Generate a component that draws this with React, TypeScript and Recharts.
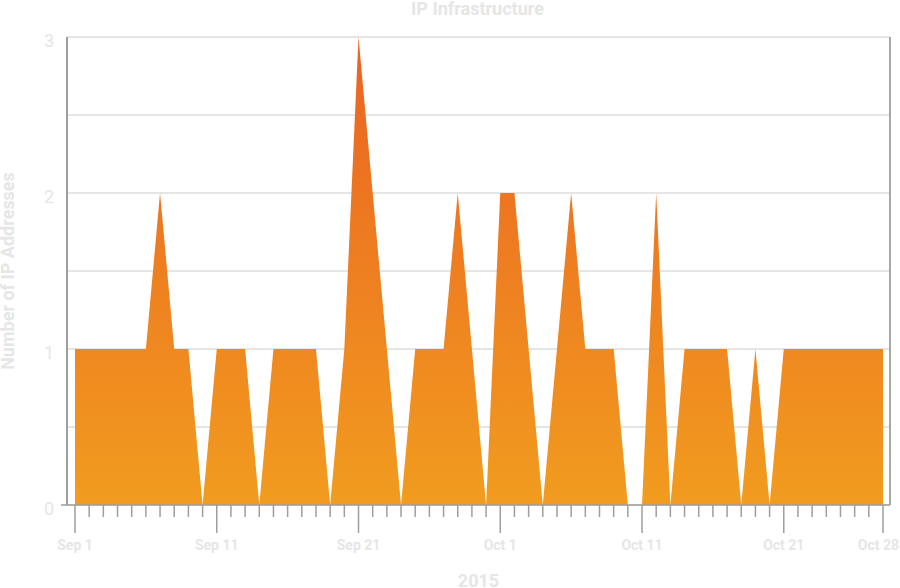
import React from 'react';
import { AreaChart, Area, XAxis, YAxis, CartesianGrid, Label } from 'recharts';

// daily counts
const SEP_COUNTS = [1, 1, 1, 1, 1, 1, 2, 1, 1, 0, 1, 1, 1, 0, 1, 1, 1, 1, 0, 1, 3, 2, 1, 0, 1, 1, 1, 2, 1, 0];
const OCT_COUNTS = [2, 2, 1, 0, 1, 2, 1, 1, 1, 0, 0, 2, 0, 1, 1, 1, 1, 0, 1, 0, 1, 1, 1, 1, 1, 1, 1, 1];
const MAJOR_TICKS = ['Sep 1', 'Sep 11', 'Sep 21', 'Oct 1', 'Oct 11', 'Oct 21', 'Oct 28'];
const Y_TICKS = [0, 0.5, 1, 1.5, 2, 2.5, 3];

const data = [
  ...SEP_COUNTS.map((v, i) => ({ day: `Sep ${i + 1}`, count: v })),
  ...OCT_COUNTS.map((v, i) => ({ day: `Oct ${i + 1}`, count: v })),
];

const TEXT = '#e6e6e6';
const AXIS = '#9e9e9e';
const GRID = '#cccccc';
const FONT = 'Roboto, sans-serif';

const DayTick = (props: any) => {
  const { x, y, payload } = props;
  const major = MAJOR_TICKS.includes(payload.value);
  // last label is pulled in so it stays on the page
  const last = payload.value === MAJOR_TICKS[MAJOR_TICKS.length - 1];
  return (
    <g>
      <line x1={x} x2={x} y1={y} y2={y + (major ? 28 : 12)} stroke={AXIS} strokeWidth={1.5} />
      {major && (
        <text
          x={last ? x + 16 : x}
          y={y + 45}
          textAnchor={last ? 'end' : 'middle'}
          fill={TEXT}
          fontSize={14}
          fontWeight={700}
          fontFamily={FONT}
        >
          {payload.value}
        </text>
      )}
    </g>
  );
};

const CountTick = (props: any) => {
  const { x, y, payload } = props;
  if (!Number.isInteger(payload.value)) return <g />;
  return (
    <g>
      {payload.value === 0 && <line x1={x - 6} x2={x} y1={y} y2={y} stroke={AXIS} strokeWidth={1.5} />}
      <text x={x - 13} y={y + 10} textAnchor="end" fill={TEXT} fontSize={18} fontFamily={FONT}>
        {payload.value}
      </text>
    </g>
  );
};

export default function App() {
  return (
    <div style={{ position: 'relative', width: 900, height: 588, fontFamily: FONT }}>
      <style>{'body{margin:0}'}</style>
      <div
        style={{
          position: 'absolute', top: 0, left: 0, width: 955, textAlign: 'center',
          color: TEXT, fontSize: 18, fontWeight: 700, lineHeight: '18px',
        }}
      >
        IP Infrastructure
      </div>
      <AreaChart width={900} height={588} data={data} margin={{ top: 37, right: 0, bottom: 0, left: 7 }}>
        <defs>
          <linearGradient id="ipFill" x1="0" y1="0" x2="0" y2="1">
            <stop offset="0%" stopColor="#eb6222" />
            <stop offset="100%" stopColor="#f19c1f" />
          </linearGradient>
        </defs>
        <CartesianGrid vertical={false} stroke={GRID} horizontalValues={Y_TICKS} />
        <XAxis
          dataKey="day"
          interval={0}
          height={83}
          tickSize={0}
          tickMargin={0}
          tickLine={false}
          tick={DayTick}
          padding={{ left: 8, right: 7 }}
          axisLine={{ stroke: AXIS, strokeWidth: 1.5 }}
        >
          <Label value="2015" position="insideBottom" offset={1} fill={TEXT} style={{ fontWeight: 700, fontSize: 18, fontFamily: FONT }} />
        </XAxis>
        <YAxis
          width={60}
          domain={[0, 3]}
          ticks={Y_TICKS}
          tickSize={0}
          tickMargin={0}
          tickLine={false}
          tick={CountTick}
          axisLine={{ stroke: AXIS, strokeWidth: 2 }}
        >
          <Label
            value="Number of IP Addresses"
            angle={-90}
            position="insideLeft"
            offset={1}
            fill={TEXT}
            style={{ textAnchor: 'middle', fontWeight: 700, fontSize: 18, fontFamily: FONT }}
          />
        </YAxis>
        <YAxis yAxisId="right" orientation="right" width={10} domain={[0, 3]} tick={false} tickLine={false} axisLine={{ stroke: '#a8a8a8', strokeWidth: 2 }} />
        <Area
          type="linear"
          dataKey="count"
          stroke="none"
          fill="url(#ipFill)"
          fillOpacity={1}
          isAnimationActive={false}
        />
      </AreaChart>
    </div>
  );
}
